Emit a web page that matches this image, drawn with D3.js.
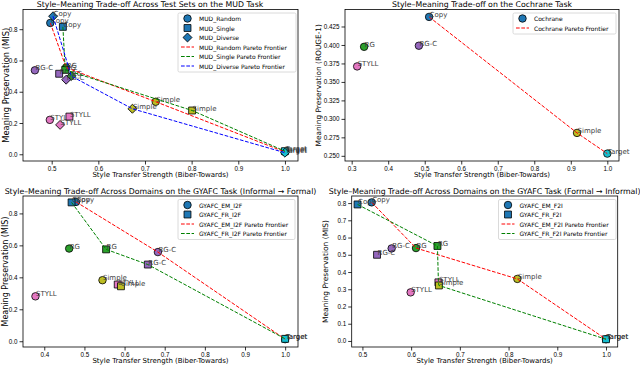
<!DOCTYPE html>
<html>
<head>
<meta charset="utf-8">
<script src="https://cdn.jsdelivr.net/npm/d3@7"></script>
<style>
  body { margin: 0; background: #fff; }
  svg { display: block; font-family: "DejaVu Sans", sans-serif; }
</style>
</head>
<body>
<div id="chart"></div>
<script>
// methods, in the order every x/y array below follows
const methods = ["Copy", "RG", "RG-C", "STYLL", "Simple", "Target"];

// MUD task
const mudRandomX = [0.497, 0.531, 0.464, 0.496, 0.723, 1.0];
const mudRandomY = [0.840, 0.555, 0.537, 0.220, 0.336, 0.015];
const mudSingleX = [0.524, 0.529, 0.516, 0.538, 0.801, 1.0];
const mudSingleY = [0.815, 0.540, 0.515, 0.241, 0.280, 0.020];
const mudDiverseX = [0.503, 0.542, 0.531, 0.518, 0.673, 1.0];
const mudDiverseY = [0.883, 0.500, 0.477, 0.188, 0.291, 0.010];

// Cochrane task
const cochraneX = [0.512, 0.334, 0.484, 0.315, 0.917, 1.0];
const cochraneY = [0.438, 0.3975, 0.399, 0.371, 0.281, 0.253];

// GYAFC informal -> formal
const i2fEmX = [0.479, 0.462, 0.683, 0.378, 0.545, 1.0];
const i2fEmY = [0.872, 0.580, 0.558, 0.281, 0.382, 0.013];
const i2fFrX = [0.468, 0.554, 0.658, 0.583, 0.591, 1.0];
const i2fFrY = [0.869, 0.575, 0.480, 0.355, 0.344, 0.015];

// GYAFC formal -> informal
const f2iEmX = [0.519, 0.610, 0.560, 0.599, 0.818, 1.0];
const f2iEmY = [0.804, 0.539, 0.537, 0.282, 0.360, 0.010];
const f2iFrX = [0.490, 0.654, 0.530, 0.656, 0.657, 1.0];
const f2iFrY = [0.792, 0.551, 0.500, 0.340, 0.322, 0.010];

// tick labels
const ticksTenths5 = [0.5, 0.6, 0.7, 0.8, 0.9, 1.0];
const ticksTenths3 = [0.3, 0.4, 0.5, 0.6, 0.7, 0.8, 0.9, 1.0];
const ticksTenths4 = [0.4, 0.5, 0.6, 0.7, 0.8, 0.9, 1.0];
const ticksMis = [0.0, 0.2, 0.4, 0.6, 0.8];
const ticksRouge = [0.250, 0.275, 0.300, 0.325, 0.350, 0.375, 0.400, 0.425];
const ticksMisFine = [0.0, 0.1, 0.2, 0.3, 0.4, 0.5, 0.6, 0.7, 0.8];

const methodColor = d3.scaleOrdinal()
  .domain(methods)
  .range(["#1f77b4", "#2ca02c", "#9467bd", "#e377c2", "#bcbd22", "#17becf"]);

const W = 640, H = 367;
const xLabel = "Style Transfer Strength (Biber-Towards)";

const panels = [
  {
    title: "Style\u2013Meaning Trade-off Across Test Sets on the MUD Task", titleX: 150,
    ylabel: "Meaning Preservation (MIS)", ylabelX: 5.5, ylabelSize: 8.4,
    box: [23, 298, 9.5, 161], xDom: [0.4385, 1.028], yDom: [-0.043, 0.926],
    xTicks: ticksTenths5, yTicks: ticksMis, yFmt: ".1f",
    series: [
      { name: "MUD_Random", x: mudRandomX, y: mudRandomY, shape: "circle", line: "#ff0000" },
      { name: "MUD_Single", x: mudSingleX, y: mudSingleY, shape: "square", line: "#008000" },
      { name: "MUD_Diverse", x: mudDiverseX, y: mudDiverseY, shape: "diamond", line: "#0000ff" },
    ],
    legend: { x: 178, y: 13, w: 118, rowH: 9.5 },
  },
  {
    title: "Style\u2013Meaning Trade-off on the Cochrane Task",
    ylabel: "Meaning Preservation (ROUGE-1)", ylabelX: 318.5, ylabelSize: 7.4,
    box: [345, 619, 9.5, 161], xDom: [0.2817, 1.032], yDom: [0.243, 0.448],
    xTicks: ticksTenths3, yTicks: ticksRouge, yFmt: ".3f",
    series: [
      { name: "Cochrane", x: cochraneX, y: cochraneY, shape: "circle", line: "#ff0000" },
    ],
    legend: { x: 513, y: 13, w: 103, rowH: 9.5 },
  },
  {
    title: "Style\u2013Meaning Trade-off Across Domains on the GYAFC Task (Informal \u2192 Formal)",
    ylabel: "Meaning Preservation (MIS)", ylabelX: 5.5, ylabelSize: 8,
    box: [23, 298, 196, 347], xDom: [0.347, 1.032], yDom: [-0.036, 0.909],
    xTicks: ticksTenths4, yTicks: ticksMis, yFmt: ".1f",
    series: [
      { name: "GYAFC_EM_I2F", x: i2fEmX, y: i2fEmY, shape: "circle", line: "#ff0000" },
      { name: "GYAFC_FR_I2F", x: i2fFrX, y: i2fFrY, shape: "square", line: "#008000" },
    ],
    legend: { x: 178, y: 199.5, w: 117, rowH: 9.5 },
  },
  {
    title: "Style\u2013Meaning Trade-off Across Domains on the GYAFC Task (Formal \u2192 Informal)",
    ylabel: "Meaning Preservation (MIS)", ylabelX: 325, ylabelSize: 7.5,
    box: [351.7, 617.7, 196, 347], xDom: [0.478, 1.024], yDom: [-0.035, 0.841],
    xTicks: ticksTenths5, yTicks: ticksMisFine, yFmt: ".1f",
    series: [
      { name: "GYAFC_EM_F2I", x: f2iEmX, y: f2iEmY, shape: "circle", line: "#ff0000" },
      { name: "GYAFC_FR_F2I", x: f2iFrX, y: f2iFrY, shape: "square", line: "#008000" },
    ],
    legend: { x: 498.5, y: 199.5, w: 117.5, rowH: 9.5 },
  },
];

const svg = d3.select("#chart").append("svg").attr("width", W).attr("height", H);

const shapes = {
  circle: d3.symbol().type(d3.symbolCircle).size(44),
  square: d3.symbol().type(d3.symbolSquare).size(48),
  diamond: d3.symbol().type(d3.symbolSquare).size(40),
};
const shapeRotate = (s) => (s === "diamond" ? " rotate(45)" : "");

// points not dominated by any other, ordered along x
function pareto(pts) {
  return pts
    .filter((p) => !pts.some((q) => q !== p && q.x >= p.x && q.y >= p.y && (q.x > p.x || q.y > p.y)))
    .sort((a, b) => a.x - b.x);
}

panels.forEach((p) => {
  const [l, r, t, b] = p.box;
  const x = d3.scaleLinear().domain(p.xDom).range([l, r]);
  const y = d3.scaleLinear().domain(p.yDom).range([b, t]);
  const g = svg.append("g");

  g.append("g")
    .attr("transform", `translate(0,${b})`)
    .call(d3.axisBottom(x).tickValues(p.xTicks).tickFormat(d3.format(".1f")).tickSize(3.5).tickPadding(2))
    .call((a) => a.select(".domain").remove())
    .call((a) => a.selectAll("text").attr("font-size", 6.3).attr("fill", "#000"))
    .call((a) => a.selectAll("line").attr("stroke-width", 0.8));

  g.append("g")
    .attr("transform", `translate(${l},0)`)
    .call(d3.axisLeft(y).tickValues(p.yTicks).tickFormat(d3.format(p.yFmt)).tickSize(3.5).tickPadding(2))
    .call((a) => a.select(".domain").remove())
    .call((a) => a.selectAll("text").attr("font-size", 6.3).attr("fill", "#000"))
    .call((a) => a.selectAll("line").attr("stroke-width", 0.8));

  const plot = g.append("g");
  const pts = p.series.map((s) => methods.map((m, i) => ({ m, x: s.x[i], y: s.y[i], s })));

  pts.forEach((arr) => {
    plot.selectAll(null)
      .data(arr)
      .join("path")
      .attr("d", (d) => shapes[d.s.shape]())
      .attr("transform", (d) => `translate(${x(d.x)},${y(d.y)})${shapeRotate(d.s.shape)}`)
      .attr("fill", (d) => methodColor(d.m))
      .attr("stroke", "#000")
      .attr("stroke-width", 0.8);
    plot.selectAll(null)
      .data(arr)
      .join("text")
      .attr("x", (d) => x(d.x) + 0.5)
      .attr("y", (d) => y(d.y))
      .attr("font-size", 7)
      .attr("fill", "#404040")
      .text((d) => d.m);
  });

  const line = d3.line().x((d) => x(d.x)).y((d) => y(d.y));
  pts.forEach((arr, i) => {
    plot.append("path")
      .attr("d", line(pareto(arr)))
      .attr("fill", "none")
      .attr("stroke", p.series[i].line)
      .attr("stroke-width", 1)
      .attr("stroke-dasharray", "3.7,1.6");
  });

  g.append("rect")
    .attr("x", l).attr("y", t).attr("width", r - l).attr("height", b - t)
    .attr("fill", "none").attr("stroke", "#000").attr("stroke-width", 0.8);

  g.append("text")
    .attr("x", p.titleX ?? (l + r) / 2)
    .attr("y", t - 2.5)
    .attr("text-anchor", "middle")
    .attr("font-size", 7.8)
    .text(p.title);

  g.append("text")
    .attr("x", (l + r) / 2)
    .attr("y", b + 16)
    .attr("text-anchor", "middle")
    .attr("font-size", 7)
    .text(xLabel);

  g.append("text")
    .attr("transform", `translate(${p.ylabelX},${(t + b) / 2}) rotate(-90)`)
    .attr("text-anchor", "middle")
    .attr("dominant-baseline", "central")
    .attr("font-size", p.ylabelSize)
    .text(p.ylabel);

  // legend
  const lg = p.legend;
  const rows = [
    ...p.series.map((s) => ({ label: s.name, shape: s.shape })),
    ...p.series.map((s) => ({ label: `${s.name} Pareto Frontier`, line: s.line })),
  ];
  const leg = g.append("g").attr("transform", `translate(${lg.x},${lg.y})`);
  leg.append("rect")
    .attr("width", lg.w).attr("height", rows.length * lg.rowH + 2)
    .attr("rx", 1.5)
    .attr("fill", "#fff").attr("fill-opacity", 0.8)
    .attr("stroke", "#d0d0d0").attr("stroke-width", 0.8);
  rows.forEach((row, i) => {
    const cy = 5.5 + i * lg.rowH;
    if (row.shape) {
      leg.append("path")
        .attr("d", shapes[row.shape]())
        .attr("transform", `translate(9.5,${cy})${shapeRotate(row.shape)}`)
        .attr("fill", "#1f77b4").attr("stroke", "#000").attr("stroke-width", 0.8);
    } else {
      leg.append("line")
        .attr("x1", 3).attr("x2", 16).attr("y1", cy).attr("y2", cy)
        .attr("stroke", row.line).attr("stroke-width", 1).attr("stroke-dasharray", "3.7,1.6");
    }
    leg.append("text")
      .attr("x", 21).attr("y", cy)
      .attr("dominant-baseline", "central")
      .attr("font-size", 6)
      .text(row.label);
  });
});
</script>
</body>
</html>
